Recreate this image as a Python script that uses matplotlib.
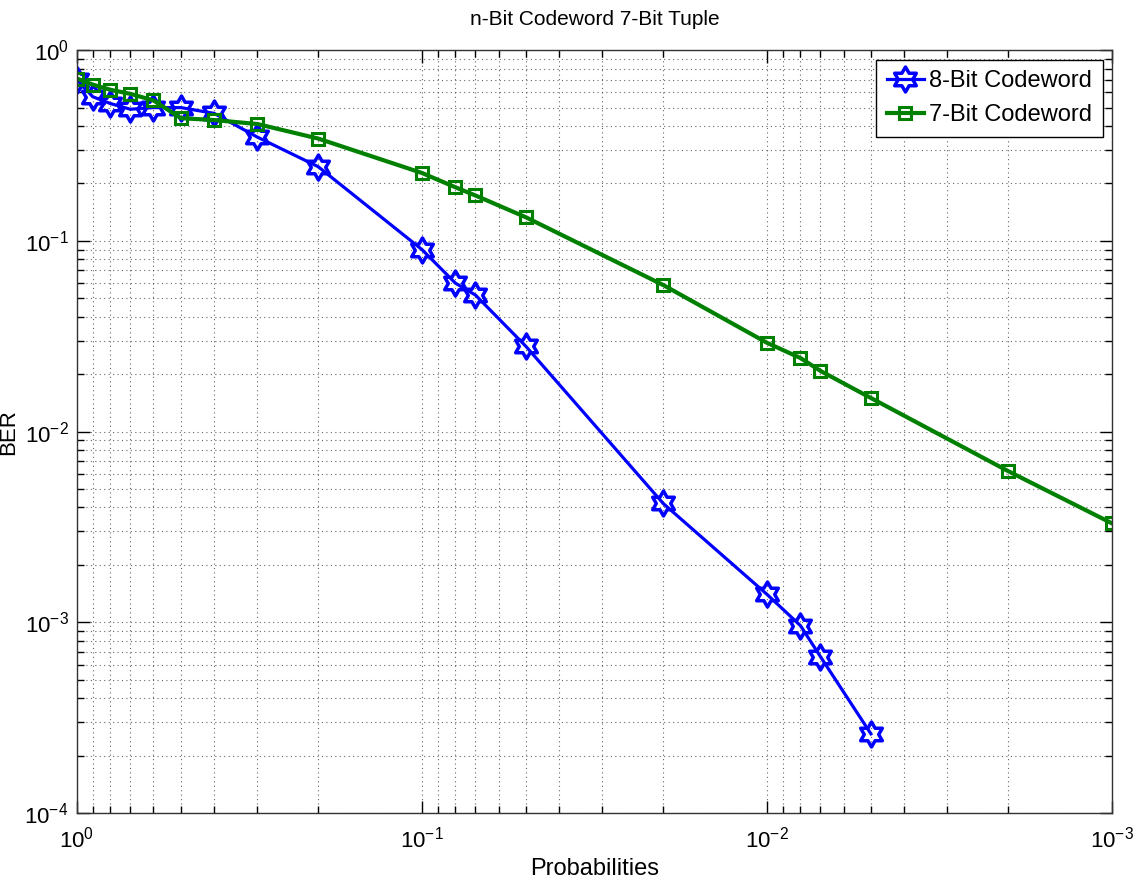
import matplotlib
matplotlib.use("Agg")
import matplotlib.pyplot as plt
from matplotlib.path import Path
from matplotlib.ticker import LogLocator, NullFormatter, FuncFormatter
import numpy as np

# ── Data ────────────────────────────────────────────────────────────────────────
prob_8bit = [1, 0.9, 0.8, 0.7, 0.6, 0.5, 0.4, 0.3, 0.2, 0.1, 0.08, 0.07,
             0.05, 0.02, 0.01, 0.008, 0.007, 0.005]
ber_8bit = [0.70, 0.57, 0.525, 0.49, 0.50, 0.50, 0.466, 0.35, 0.245, 0.090,
            0.060, 0.052, 0.028, 0.0042, 0.0014, 0.00096, 0.00066, 0.00026]

prob_7bit = [1, 0.9, 0.8, 0.7, 0.6, 0.5, 0.4, 0.3, 0.2, 0.1, 0.08, 0.07,
             0.05, 0.02, 0.01, 0.008, 0.007, 0.005, 0.002, 0.001]
ber_7bit = [0.71, 0.66, 0.62, 0.59, 0.545, 0.44, 0.43, 0.41, 0.344, 0.227,
            0.191, 0.173, 0.133, 0.0587, 0.0292, 0.0243, 0.0208, 0.015,
            0.0062, 0.0033]

labels = ["8-Bit Codeword", "7-Bit Codeword"]

# ── Style ────────────────────────────────────────────────────────────────────────
plt.rcParams["font.family"] = ["Liberation Sans", "DejaVu Sans"]
plt.rcParams["mathtext.fontset"] = "custom"
plt.rcParams["mathtext.rm"] = "Liberation Sans"
plt.rcParams["mathtext.it"] = "Liberation Sans"

BLUE = "#0000ff"
GREEN = "#008000"
HEXAGRAM = Path.unit_regular_star(6, 0.577)


def pow10_label(v, pos):
    e = int(round(np.log10(v)))
    return r"$\mathrm{10^{%d}}$" % e


fig = plt.figure(figsize=(11.4, 8.88), dpi=100)
ax = fig.add_axes([0.0675, 0.0845, 0.908, 0.859])

ax.plot(prob_8bit, ber_8bit, color=BLUE, linewidth=2.3, marker=HEXAGRAM,
        markersize=18, markerfacecolor="none", markeredgewidth=2.5,
        markeredgecolor=BLUE, label=labels[0])
ax.plot(prob_7bit, ber_7bit, color=GREEN, linewidth=3.0, marker="s",
        markersize=8, markerfacecolor="none", markeredgewidth=2.2,
        markeredgecolor=GREEN, label=labels[1])

ax.set_xscale("log")
ax.set_yscale("log")
ax.set_xlim(1, 1e-3)
ax.set_ylim(1e-4, 1)

for axis in (ax.xaxis, ax.yaxis):
    axis.set_major_locator(LogLocator(base=10, numticks=10))
    axis.set_minor_locator(LogLocator(base=10, subs=range(2, 10), numticks=20))
    axis.set_major_formatter(FuncFormatter(pow10_label))
    axis.set_minor_formatter(NullFormatter())

ax.grid(True, which="both", color="#333333", linestyle=(0, (1, 3)),
        linewidth=0.8, alpha=0.75)
ax.tick_params(which="both", direction="in", top=True, right=True,
               labelsize=16, width=1.0)
ax.tick_params(which="major", length=9)
ax.tick_params(which="minor", length=5)
ax.tick_params(axis="x", which="major", pad=10)
ax.tick_params(axis="y", which="major", pad=6)
for s in ax.spines.values():
    s.set_linewidth(1.0)
    s.set_color("#333333")

ax.set_title("n-Bit Codeword 7-Bit Tuple", fontsize=15, pad=18)
ax.set_xlabel("Probabilities", fontsize=17, labelpad=4)
ax.set_ylabel("BER", fontsize=16)
ax.yaxis.set_label_coords(-0.056, 0.5)

leg = ax.legend(loc="upper right", fontsize=17, fancybox=False,
                framealpha=1, edgecolor="black", borderaxespad=0.4,
                handlelength=1.6, handletextpad=0.2, labelspacing=0.5,
                borderpad=0.45)
leg.get_frame().set_linewidth(1.0)

fig.savefig("out.png", dpi=100)
